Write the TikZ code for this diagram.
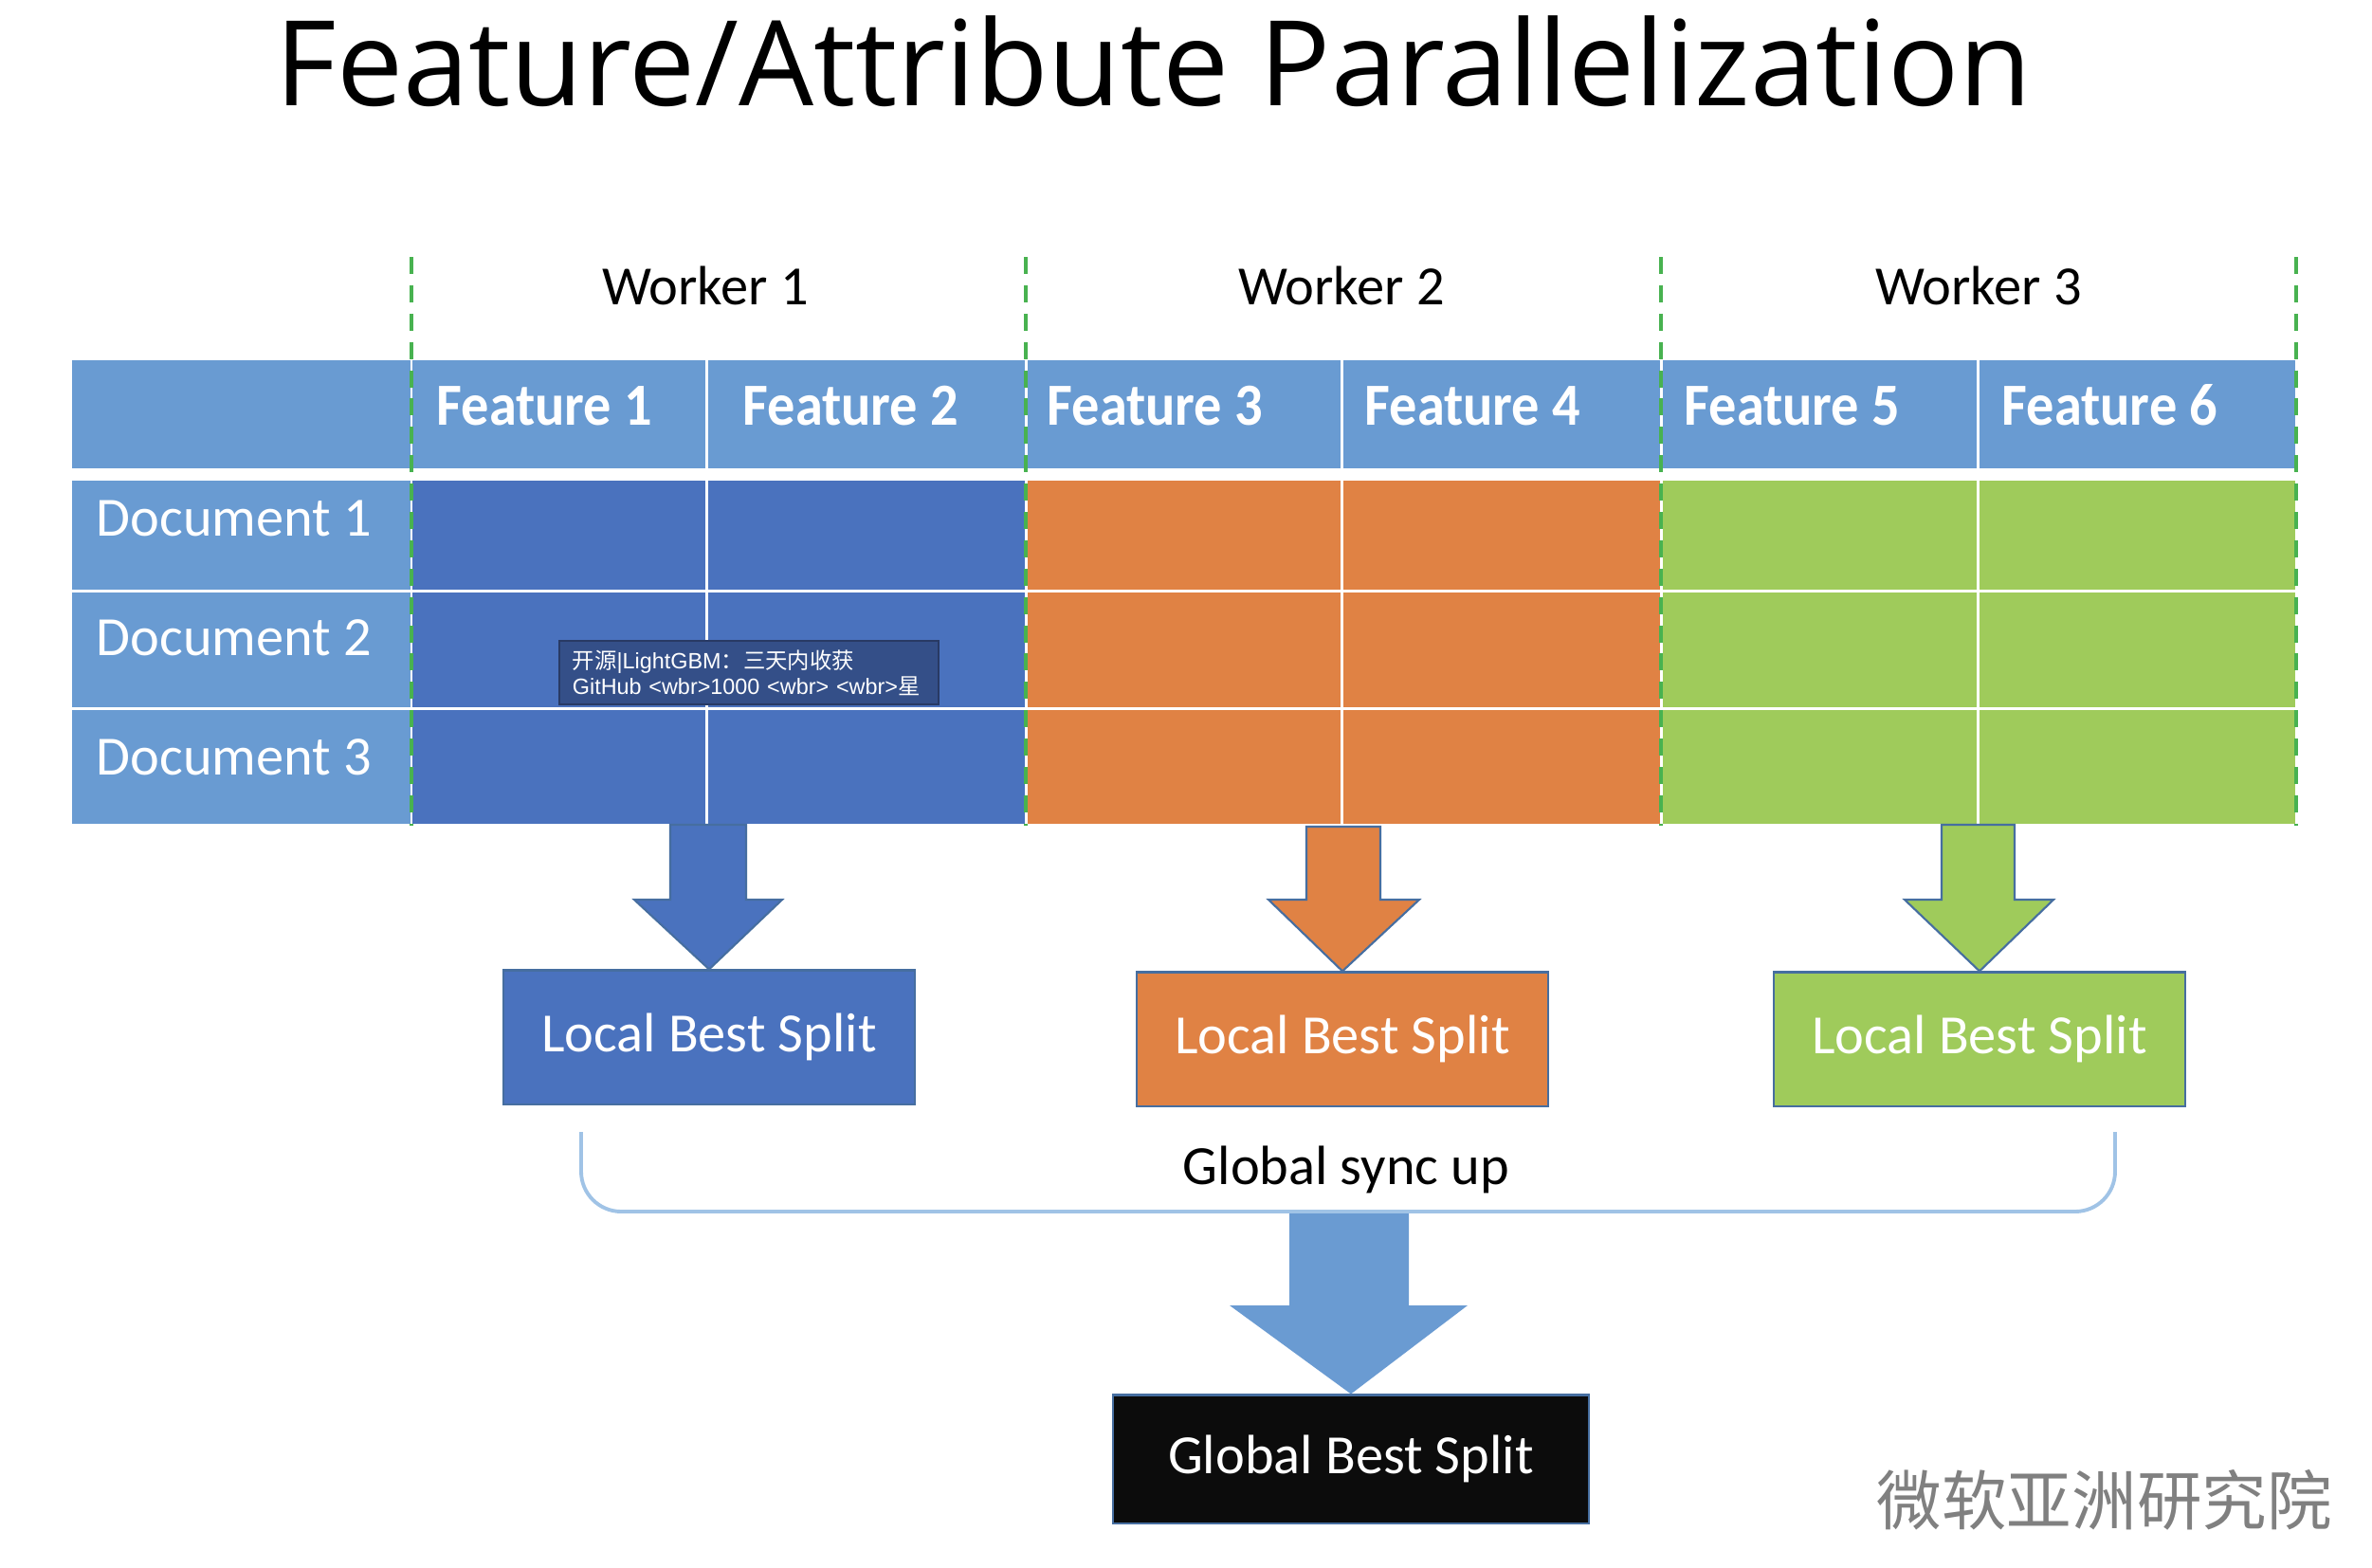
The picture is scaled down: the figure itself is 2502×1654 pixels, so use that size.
\documentclass[tikz,border=0pt]{standalone}
\usepackage{fontspec}
\setmainfont{Carlito}
\newfontfamily\titlefont{Open Sans}
\newfontfamily\cjkfont{Noto Sans CJK SC}
\newfontfamily\tipfont{Liberation Sans}
\definecolor{hdr}{RGB}{105,155,210}
\definecolor{wblue}{RGB}{74,114,190}
\definecolor{worange}{RGB}{224,130,68}
\definecolor{wgreen}{RGB}{159,203,91}
\definecolor{dgreen}{RGB}{72,178,80}
\definecolor{edgec}{RGB}{70,110,160}
\definecolor{tipbg}{RGB}{52,79,136}
\definecolor{tipedge}{RGB}{40,58,100}
\definecolor{bracec}{RGB}{160,195,230}
\definecolor{garrow}{RGB}{106,155,210}
\definecolor{gbsfill}{RGB}{12,12,12}
\begin{document}
\begin{tikzpicture}[x=0.01cm,y=-0.01cm,
  txt/.style={font=\fontsize{16.6}{20}\selectfont, inner sep=0pt},
  ftxt/.style={txt, font=\fontsize{16.6}{20}\selectfont\bfseries, text=white, yscale=1.08},
  dtxt/.style={txt, text=white},
  cellw/.style={draw=white, line width=0.85pt},
  wdash/.style={draw=dgreen, line width=1.4pt, dash pattern=on 5.1pt off 3.4pt},
  lbs/.style={draw=edgec, line width=0.6pt, minimum width=4.33cm, minimum height=1.41cm,
    inner sep=0pt, text=white, font=\fontsize{16.6}{20}\selectfont},
  barrow/.style={draw=edgec, line width=0.6pt, line join=miter}
]
\useasboundingbox (0,0) rectangle (2502,1654);
\fill[white] (0,0) rectangle (2502,1654);

% title
\node[anchor=base, inner sep=0pt, font=\titlefont\fontsize{35.5}{40}\selectfont] (title) at (1217,111) {Feature/Attribute Parallelization};

% header row
\filldraw[cellw, fill=hdr] (75,378) rectangle (434,495);
\foreach \a/\b in {434/745, 745/1082, 1082/1415, 1415/1752, 1752/2086, 2086/2422}
  {\filldraw[cellw, fill=hdr] (\a,378) rectangle (\b,495);}
% document label column
\foreach \t/\u in {505/623, 623/747, 747/870}
  {\filldraw[cellw, fill=hdr] (75,\t) rectangle (434,\u);}
% data cells
\foreach \a/\b/\c in {434/745/wblue, 745/1082/wblue, 1082/1415/worange, 1415/1752/worange, 1752/2086/wgreen, 2086/2422/wgreen}
  {\foreach \t/\u in {505/623, 623/747, 747/870}
    {\filldraw[cellw, fill=\c] (\a,\t) rectangle (\b,\u);}}

% worker separators
\foreach \x in {434, 1082, 1752, 2422}
  {\draw[wdash] (\x,271) -- (\x,871);}

% worker labels
\node[txt, anchor=base] (w1) at (744,321) {Worker 1};
\node[txt, anchor=base] (w2) at (1415,321) {Worker 2};
\node[txt, anchor=base] (w3) at (2087,321) {Worker 3};

% feature labels
\node[ftxt, anchor=base west] (f1) at (460,448) {Feature 1};
\node[ftxt, anchor=base west] (f2) at (783,448) {Feature 2};
\node[ftxt, anchor=base west] (f3) at (1104,448) {Feature 3};
\node[ftxt, anchor=base west] (f4) at (1439,448) {Feature 4};
\node[ftxt, anchor=base west] (f5) at (1776,448) {Feature 5};
\node[ftxt, anchor=base west] (f6) at (2111,448) {Feature 6};

% document labels
\node[dtxt, anchor=base west] (d1) at (101,565) {Document 1};
\node[dtxt, anchor=base west] (d2) at (101,691) {Document 2};
\node[dtxt, anchor=base west] (d3) at (101,817) {Document 3};

% tooltip
\node[draw=tipedge, fill=tipbg, line width=0.5pt, anchor=north west, minimum width=4.0cm, minimum height=0.67cm,
  inner xsep=0.14cm, inner ysep=0pt, text width=3.72cm, align=left, text=white,
  font=\tipfont\fontsize{6.65}{7.7}\selectfont] (tip) at (589,675)
  {\makebox[3.72cm][l]{{\cjkfont 开源}|LightGBM{\cjkfont ：三天内收获}}\\\makebox[3.72cm][l]{GitHub <wbr>1000 <wbr> <wbr>{\cjkfont 星}}};

% local best split boxes
\node[lbs, fill=wblue] (lbs1) at (748,1094) {Local Best Split};
\node[lbs, fill=worange] (lbs2) at (1416,1096) {Local Best Split};
\node[lbs, fill=wgreen] (lbs3) at (2088,1096) {Local Best Split};

% block arrows
\filldraw[barrow, fill=wblue] (707,870) -- (787,870) -- (787,949) -- (825,949) -- (lbs1.north) -- (669,949) -- (707,949) -- cycle;
\filldraw[barrow, fill=worange] (1378,872) -- (1456,872) -- (1456,949) -- (1497,949) -- (lbs2.north) -- (1338,949) -- (1378,949) -- cycle;
\filldraw[barrow, fill=wgreen] (2048,870) -- (2125,870) -- (2125,949) -- (2166,949) -- (lbs3.north) -- (2009,949) -- (2048,949) -- cycle;

% brace
\draw[bracec, line width=1.1pt, rounded corners=12] (613,1194) -- (613,1278) -- (2231,1278) -- (2231,1194);
\node[txt, anchor=base] (sync) at (1420,1249) {Global sync up};

% global best split
\node[lbs, fill=gbsfill, minimum width=5.02cm, minimum height=1.35cm] (gbs) at (1425,1539) {Global Best Split};
\fill[garrow] (1360,1280) -- (1486,1280) -- (1486,1377) -- (1548,1377) -- (gbs.north) -- (1297,1377) -- (1360,1377) -- cycle;

% watermark
\node[anchor=base west, inner sep=0pt, text=black!50, font=\cjkfont\fontsize{19.5}{22}\selectfont] (wm) at (1979,1608) {微软亚洲研究院};
\end{tikzpicture}
\end{document}
